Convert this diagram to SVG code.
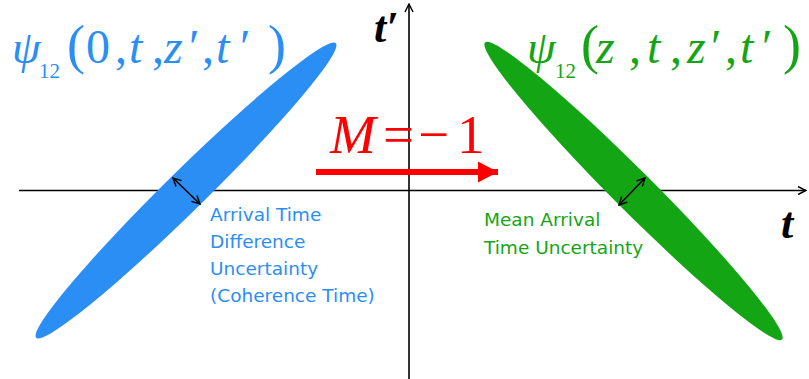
<svg xmlns="http://www.w3.org/2000/svg" width="809" height="379" viewBox="0 0 809 379">
<defs>
<style>
.axis{stroke:#000;stroke-width:1.6;fill:none}
.dbl{stroke:#000;stroke-width:1.6;fill:none;marker-start:url(#open);marker-end:url(#open)}
.math{font-family:"Liberation Serif","Times New Roman",serif;font-style:italic}
.rm{font-family:"Liberation Serif","Times New Roman",serif;font-style:normal}
.lbl{font-family:"DejaVu Sans",sans-serif;font-size:18.5px}
.blue{fill:#2b8ef5}
.green{fill:#14a514}
.par{font-size:54px}
</style>
<marker id="open" viewBox="0 0 10 10" refX="9" refY="5" markerWidth="10" markerHeight="10" markerUnits="userSpaceOnUse" orient="auto-start-reverse">
<path d="M1,1 L9,5 L1,9" fill="none" stroke="#000" stroke-width="1.4"/>
</marker>
<marker id="red" viewBox="0 0 20 21" refX="20" refY="10.5" markerWidth="20" markerHeight="21" markerUnits="userSpaceOnUse" orient="auto">
<path d="M0,0 L20,10.5 L0,21 Z" fill="#ff0000"/>
</marker>
</defs>
<g id="axes">
<line class="axis" x1="19" y1="190.5" x2="806" y2="190.5" marker-end="url(#open)"/>
<line class="axis" x1="409" y1="379" x2="409" y2="4" marker-end="url(#open)"/>
<text class="math" x="374" y="42" font-size="44" font-weight="bold">t′</text>
<text class="math" x="781" y="238" font-size="44" font-weight="bold">t</text>
</g>
<g id="blue-ellipse">
<ellipse class="blue" cx="186" cy="190.5" rx="210" ry="20" transform="rotate(-44.5 186 190.5)"/>
</g>
<g id="green-ellipse">
<ellipse class="green" cx="633.5" cy="191" rx="210" ry="20" transform="rotate(45 633.5 191)"/>
</g>
<g id="connectors">
<line class="dbl" x1="173" y1="178" x2="200" y2="204"/>
<line class="dbl" x1="619" y1="205" x2="645" y2="178"/>
<line x1="316" y1="172" x2="498" y2="172" stroke="#ff0000" stroke-width="6" marker-end="url(#red)"/>
</g>
<g id="blue-title" class="blue">
<text class="math" x="12" y="63" font-size="46">ψ</text>
<text class="rm" x="39" y="78" font-size="21">12</text>
<text y="63" font-size="48"><tspan class="rm par" x="67">(</tspan><tspan class="rm" x="86">0</tspan><tspan class="rm" x="115">,</tspan><tspan class="math" x="129">t</tspan><tspan class="rm" x="152">,</tspan><tspan class="math" x="164">z</tspan><tspan class="rm" x="189">′</tspan><tspan class="rm" x="202">,</tspan><tspan class="math" x="216">t</tspan><tspan class="rm" x="240">′</tspan><tspan class="rm par" x="268">)</tspan></text>
</g>
<g id="green-title" class="green">
<text class="math" x="527" y="63" font-size="46">ψ</text>
<text class="rm" x="555" y="78" font-size="21">12</text>
<text y="63" font-size="48"><tspan class="rm par" x="581">(</tspan><tspan class="math" x="596">z</tspan><tspan class="rm" x="629">,</tspan><tspan class="math" x="647">t</tspan><tspan class="rm" x="670">,</tspan><tspan class="math" x="687">z</tspan><tspan class="rm" x="711">′</tspan><tspan class="rm" x="725">,</tspan><tspan class="math" x="740">t</tspan><tspan class="rm" x="762">′</tspan><tspan class="rm par" x="783">)</tspan></text>
</g>
<g id="m-label">
<text y="153" font-size="55" fill="#ff0000"><tspan class="math" x="330">M</tspan><tspan class="rm" x="383">=</tspan><tspan class="rm" x="418">−</tspan><tspan class="rm" x="457">1</tspan></text>
</g>
<g id="blue-label" class="blue lbl">
<text x="210" y="221">Arrival Time</text>
<text x="210" y="248">Difference</text>
<text x="210" y="275">Uncertainty</text>
<text x="210" y="302">(Coherence Time)</text>
</g>
<g id="green-label" class="green lbl">
<text x="484" y="226">Mean Arrival</text>
<text x="484" y="254">Time Uncertainty</text>
</g>
</svg>
